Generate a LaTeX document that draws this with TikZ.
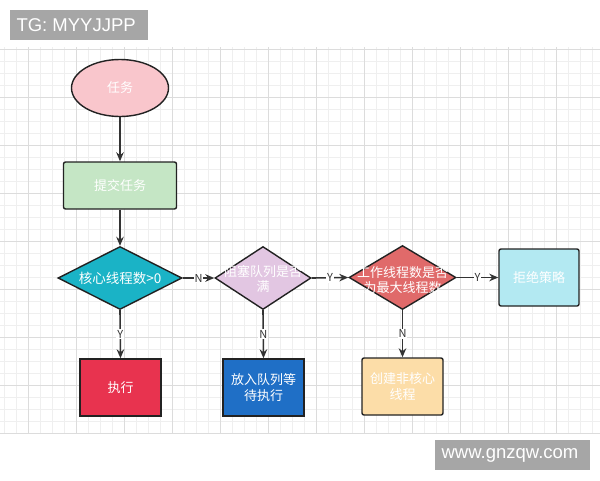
\documentclass[tikz,border=0pt]{standalone}
\usepackage{fontspec}
\setmainfont{Liberation Sans}
\newfontfamily\cjk{Noto Sans CJK SC}
\usetikzlibrary{shapes.geometric,arrows.meta}
\definecolor{bordc}{HTML}{222222}
\definecolor{linec}{HTML}{333333}
\definecolor{gminor}{HTML}{EFEFEF}
\definecolor{gmajor}{HTML}{DCDCDC}
\definecolor{wmgray}{HTML}{A6A6A6}
\definecolor{cpink}{HTML}{F9C6CC}
\definecolor{cgreen}{HTML}{C5E6C5}
\definecolor{cteal}{HTML}{1AB3C6}
\definecolor{cpurple}{HTML}{E2C6E2}
\definecolor{cred}{HTML}{E06A6A}
\definecolor{ccyan}{HTML}{B3E9F2}
\definecolor{ccrimson}{HTML}{E8334F}
\definecolor{cblue}{HTML}{1F6FC6}
\definecolor{corange}{HTML}{FCDDA8}
\tikzset{
  box/.style={draw=bordc, line width=1.4pt, rounded corners=2pt, minimum width=#1, text=white, font=\cjk\fontsize{13}{16}\selectfont, align=center, inner sep=1pt},
  dia/.style={diamond, draw=bordc, line width=1.4pt, aspect=#1, text=white, font=\cjk\fontsize{13}{16}\selectfont, align=center, inner sep=0pt},
  conn/.style={draw=linec, line width=1.6pt, -{Stealth[length=9pt,width=7.5pt]}},
  lab/.style={fill=white, text=linec, font=\cjk\fontsize{11}{12}\selectfont, inner sep=1pt},
  wm/.style={fill=wmgray, text=white, font=\fontsize{18}{20}\selectfont, inner sep=0pt, anchor=north west}
}
\begin{document}
\begin{tikzpicture}[x=1pt,y=-1pt]
\useasboundingbox (0,0) rectangle (600,480);
\fill[white] (0,0) rectangle (600,480);
% grid
\foreach \x in {4,16,...,600} \draw[gminor, line width=0.5pt] (\x,47) -- (\x,433);
\foreach \y in {49,61,...,433} \draw[gminor, line width=0.5pt] (0,\y) -- (600,\y);
\foreach \x in {28,76,...,600} \draw[gmajor, line width=0.6pt] (\x,47) -- (\x,433);
\foreach \y in {49,97,...,433} \draw[gmajor, line width=0.6pt] (0,\y) -- (600,\y);
% watermarks
\node[wm, minimum width=138pt, minimum height=30pt] (wm1) at (10,10) {};
\node[text=white, font=\fontsize{18.5}{20}\selectfont, anchor=west] (wm1t) at (13,25.5) {TG: MYYJJPP};
\node[wm, minimum width=155pt, minimum height=30pt] (wm2) at (435,440) {};
\node[text=white, font=\fontsize{18.5}{20}\selectfont] (wm2t) at (510,455) {www.gnzqw.com};
% nodes
\node[ellipse, draw=bordc, line width=1.4pt, fill=cpink, minimum width=97pt, minimum height=57pt, text=white, font=\cjk\fontsize{13}{16}\selectfont] (task) at (120,88) {任务};
\node[box=113pt, fill=cgreen, minimum height=47pt] (submit) at (120,185.5) {提交任务};
\node[dia=2, fill=cteal, minimum width=124pt, minimum height=63pt] (core) at (120,278) {};
\node[text=white, font=\cjk\fontsize{13.5}{16}\selectfont] (coret) at (120,278) {核心线程数>0};
\node[dia=1.5, fill=cpurple, minimum width=96pt, minimum height=63pt] (queue) at (263,278) {};
\node[text=white, font=\cjk\fontsize{13}{15}\selectfont, align=center] (queuet) at (263,279) {阻塞队列是否\\满};
\node[dia=1.7, fill=cred, minimum width=107pt, minimum height=64pt] (maxw) at (402.5,277.5) {};
\node[text=white, font=\cjk\fontsize{13}{15}\selectfont, align=center] (maxwt) at (402.5,280) {工作线程数是否\\为最大线程数};
\node[box=80pt, fill=ccyan, minimum height=57pt] (reject) at (539,277.5) {拒绝策略};
\node[box=81pt, fill=ccrimson, minimum height=57pt, rounded corners=0pt] (exec) at (120.5,387.5) {执行};
\node[box=81pt, fill=cblue, minimum height=57pt, rounded corners=0pt] (enq) at (263.5,387.5) {放入队列等\\待执行};
\node[box=81pt, fill=corange, minimum height=57pt] (create) at (402.5,386.5) {创建非核心\\线程};
% connectors
\draw[conn] (task) -- (submit);
\draw[conn] (submit) -- (core);
\draw[conn] (core.east) -- node[lab]{N} (queue.west);
\draw[conn] (queue.east) -- node[lab]{Y} (maxw.west);
\draw[conn] (maxw.east) -- node[lab]{Y} (reject.west);
\draw[conn] (core.south) -- node[lab]{Y} (exec.north);
\draw[conn] (queue.south) -- node[lab]{N} (enq.north);
\draw[conn] (maxw.south) -- node[lab]{N} (create.north);
\end{tikzpicture}
\end{document}
